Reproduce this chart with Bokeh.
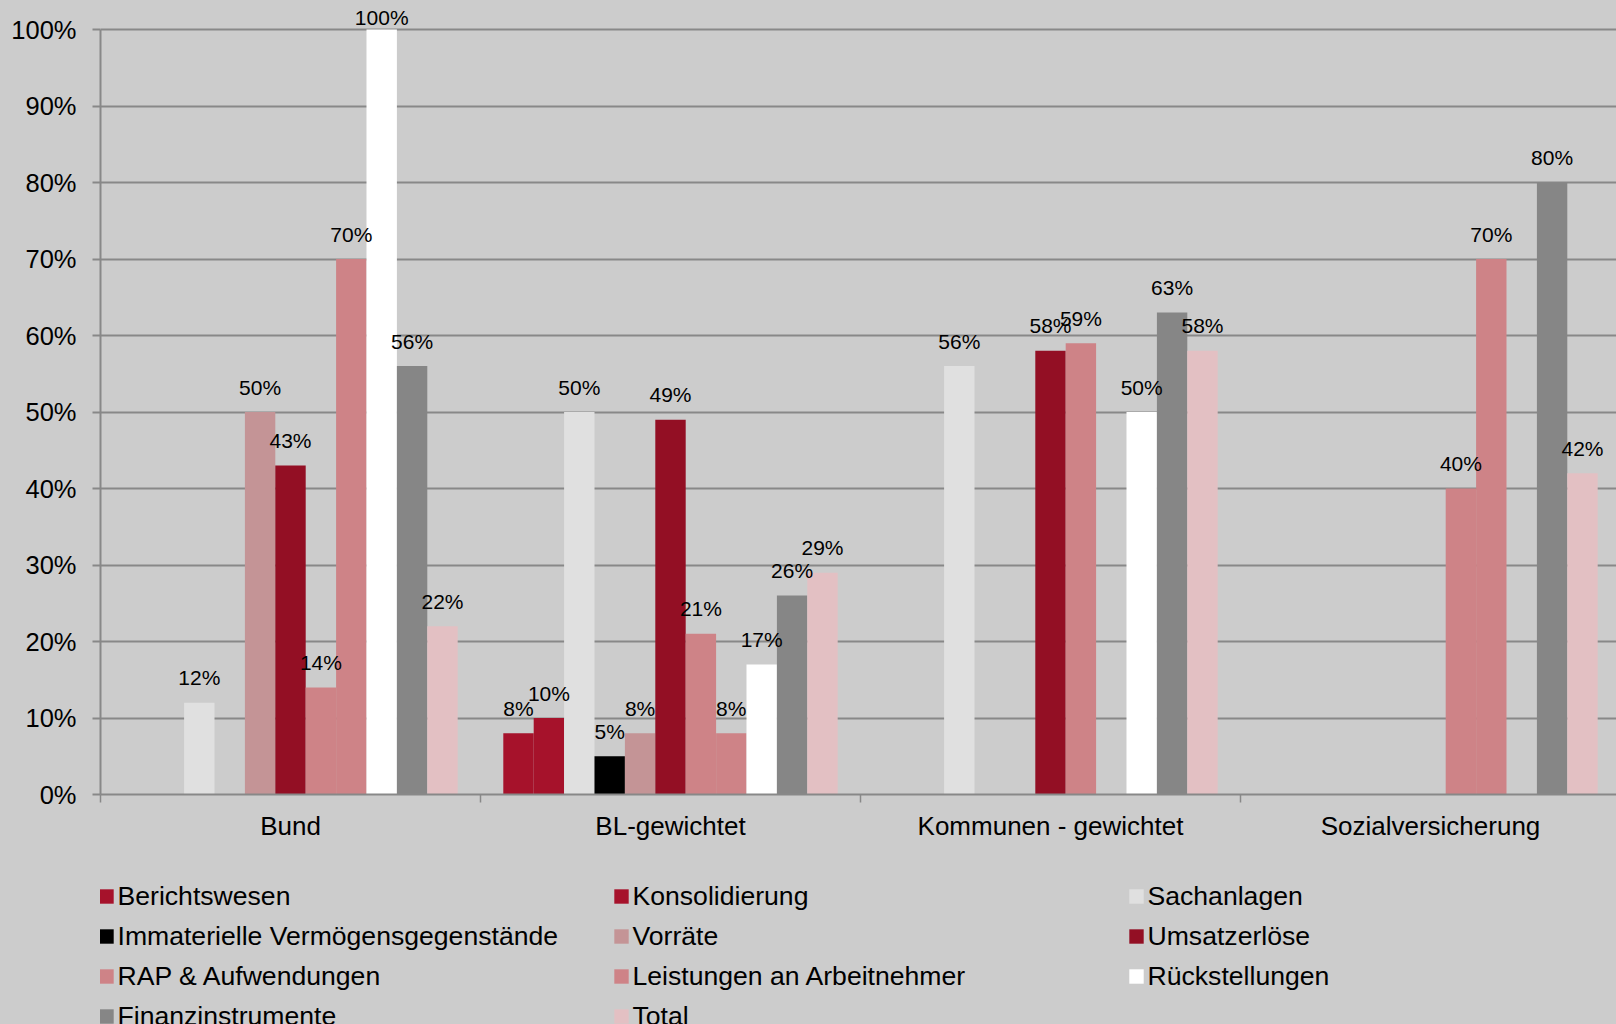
from bokeh.plotting import figure
from bokeh.layouts import column
from bokeh.models import (ColumnDataSource, FixedTicker, Legend, LegendItem, Range1d,
                          CustomJSTickFormatter, PrintfTickFormatter)
from bokeh.core.properties import value
from bokeh.embed import file_html
from bokeh.resources import INLINE

# ---------------- data ----------------
categories = ["Bund", "BL-gewichtet", "Kommunen - gewichtet", "Sozialversicherung"]

series_names = ["Berichtswesen", "Konsolidierung", "Sachanlagen",
                "Immaterielle Vermögensgegenstände", "Vorräte", "Umsatzerlöse",
                "RAP & Aufwendungen", "Leistungen an Arbeitnehmer", "Rückstellungen",
                "Finanzinstrumente", "Total"]

berichtswesen = [0, 8, 0, 0]
konsolidierung = [0, 10, 0, 0]
sachanlagen = [12, 50, 56, 0]
immaterielle = [0, 5, 0, 0]
vorraete = [50, 8, 0, 0]
umsatzerloese = [43, 49, 58, 0]
rap = [14, 21, 59, 40]
leistungen = [70, 8, 0, 70]
rueckstellungen = [100, 17, 50, 0]
finanzinstrumente = [56, 26, 63, 80]
total = [22, 29, 58, 42]

series_values = [berichtswesen, konsolidierung, sachanlagen, immaterielle, vorraete,
                 umsatzerloese, rap, leistungen, rueckstellungen, finanzinstrumente, total]

colors = ["#A6122B", "#A6122B", "#E0E0E0", "#000000", "#C49496", "#930F24",
          "#CE8387", "#CE8387", "#FFFFFF", "#868686", "#E3C0C3"]

y_ticks = [0, 10, 20, 30, 40, 50, 60, 70, 80, 90, 100]

# ---------------- layout constants ----------------
W = 1616
H1 = 860                      # chart figure height
H2 = 1024 - H1                # legend figure height
LEFT = 100
FRAME_H = 794
BOTTOM = H1 - FRAME_H
GROUP_PX = 380.0
PX_PER_PCT = 7.65
n_series = len(series_names)
bar_w = 1.0 / (n_series + 1.5)
gap = 0.75 * bar_w

font = "Liberation Sans"
axis_col = "#888888"
bg = "#CCCCCC"

p = figure(width=W, height=H1, output_backend="svg", toolbar_location=None,
           x_range=Range1d(0, (W - LEFT) / GROUP_PX),
           y_range=Range1d(0, FRAME_H / PX_PER_PCT),
           min_border_left=LEFT, min_border_right=0, min_border_top=0,
           min_border_bottom=BOTTOM)
p.background_fill_color = bg
p.border_fill_color = bg
p.outline_line_color = None

# y axis
p.yaxis.ticker = FixedTicker(ticks=y_ticks)
p.yaxis.formatter = PrintfTickFormatter(format="%d%%")
p.yaxis.bounds = (0, 100)
p.yaxis.axis_line_color = axis_col
p.yaxis.axis_line_width = 2
p.yaxis.major_tick_line_color = axis_col
p.yaxis.major_tick_line_width = 2
p.yaxis.major_tick_out = 8
p.yaxis.major_tick_in = 0
p.yaxis.minor_tick_line_color = None
p.yaxis.major_label_standoff = 16
p.yaxis.major_label_text_font = font
p.yaxis.major_label_text_font_size = "25.5px"
p.yaxis.major_label_text_color = "#000000"

# x axis: category labels at group centres, group boundary marks as minor ticks
p.xaxis.ticker = FixedTicker(ticks=[i + 0.5 for i in range(len(categories))],
                             minor_ticks=list(range(len(categories) + 1)))
p.xaxis.formatter = CustomJSTickFormatter(args=dict(labels=categories),
                                          code="return labels[Math.floor(tick)] || ''")
p.xaxis.axis_line_color = axis_col
p.xaxis.axis_line_width = 2
p.xaxis.major_tick_line_color = None
p.xaxis.major_tick_out = 0
p.xaxis.major_tick_in = 0
p.xaxis.minor_tick_line_color = axis_col
p.xaxis.minor_tick_line_width = 1.5
p.xaxis.minor_tick_out = 8
p.xaxis.minor_tick_in = 0
p.xaxis.major_label_standoff = 8
p.xaxis.major_label_text_font = font
p.xaxis.major_label_text_font_size = "26px"
p.xaxis.major_label_text_color = "#000000"

p.xgrid.grid_line_color = None
p.ygrid.grid_line_color = axis_col
p.ygrid.grid_line_width = 2

# bars + value labels
lx, ly, lt, lo = [], [], [], []
for k, (name, vals, col) in enumerate(zip(series_names, series_values, colors)):
    xs, tops = [], []
    for g, v in enumerate(vals):
        if v > 0:
            xc = g + gap + bar_w * (k + 0.5)
            xs.append(xc)
            tops.append(v)
            lx.append(xc)
            ly.append(v)
            lt.append(f"{v}%")
            lo.append(-12.5 if v >= 100 else -25)
    src = ColumnDataSource(data=dict(x=xs, top=tops))
    p.vbar(x="x", top="top", bottom=0, width=bar_w, source=src,
           fill_color=col, line_color=None)

lab_src = ColumnDataSource(data=dict(x=lx, y=ly, text=lt, off=lo))
p.text(x="x", y="y", text="text", y_offset="off", source=lab_src,
       text_align="center", text_baseline="alphabetic",
       text_font=value(font), text_font_size="21px", text_color="#000000")

# ---------------- legend figure (frame aligned with the chart's frame) ----------------
p2 = figure(width=W, height=H2, output_backend="svg", toolbar_location=None,
            x_range=Range1d(0, W - LEFT), y_range=Range1d(0, H2),
            x_axis_location=None, y_axis_location=None,
            min_border_left=LEFT, min_border_right=0, min_border_top=0,
            min_border_bottom=0)
p2.background_fill_color = bg
p2.border_fill_color = bg
p2.outline_line_color = None
p2.xgrid.grid_line_color = None
p2.ygrid.grid_line_color = None

items = []
for name, col, vals in zip(series_names, colors, series_values):
    # legend swatch carrier: one hidden bar per series (not drawn in the frame)
    r = p2.vbar(x=[0], top=[max(vals)], width=0, fill_color=col, line_color=None,
                visible=False)
    items.append(LegendItem(label=name, renderers=[r]))

item_h = 34
row_sp = 6
legend_h = 4 * item_h + 3 * row_sp
legend_top = 879.3 - H1
legend = Legend(items=items, ncols=3, orientation="horizontal",
                location=(-3.5, H2 - legend_top - legend_h),
                glyph_width=18, glyph_height=18, label_standoff=3,
                label_width=488, label_height=item_h, spacing=row_sp,
                padding=0, margin=0, inactive_fill_alpha=0,
                label_text_font=font, label_text_font_size="26.6px",
                label_text_color="#000000",
                background_fill_alpha=0, border_line_color=None)
p2.add_layout(legend, "center")

layout = column(p, p2, spacing=0, styles={"background-color": bg})
open("out.html", "w").write(file_html(layout, INLINE))
